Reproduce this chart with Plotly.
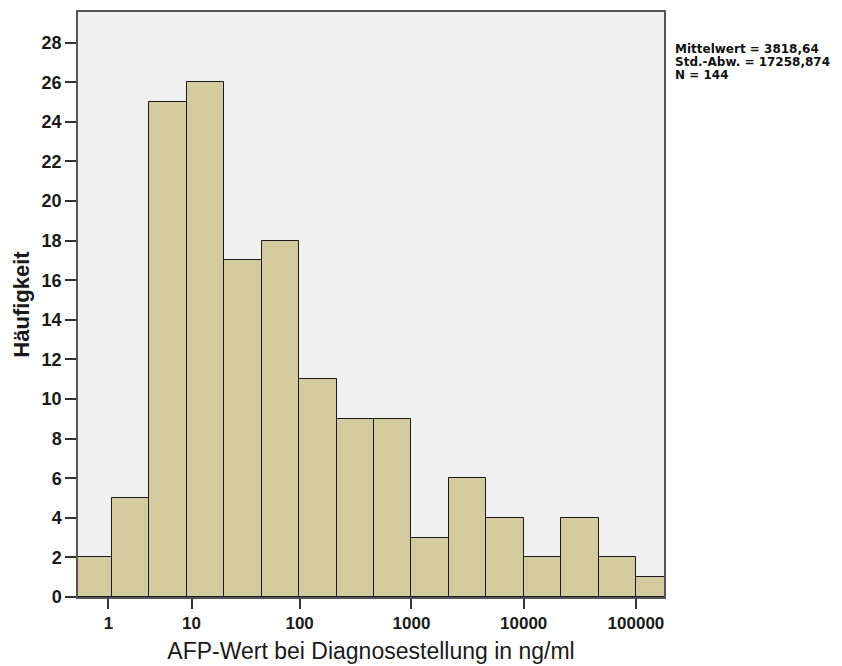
import math
import plotly.graph_objects as go

# Histogram counts, bins of width 1/3 on the log10(AFP+1) scale, starting at 0
counts = [2, 5, 25, 26, 17, 18, 11, 9, 9, 3, 6, 4, 2, 4, 2, 1]
bin_width = 1.0 / 3.0
tick_values = [1, 10, 100, 1000, 10000, 100000]
tick_labels = ["1", "10", "100", "1000", "10000", "100000"]
y_ticks = list(range(0, 30, 2))
stats_lines = ["Mittelwert = 3818,64", "Std.-Abw. = 17258,874", "N = 144"]

centers = [(i + 0.5) * bin_width for i in range(len(counts))]
tick_pos = [math.log10(v + 1) for v in tick_values]

fig = go.Figure()
fig.add_trace(go.Bar(
    x=centers, y=counts, width=bin_width,
    marker=dict(color="#d4cc9e", line=dict(color="#1a1a1a", width=1)),
    hoverinfo="y",
))

font_family = "Liberation Sans, Arial, sans-serif"

fig.update_layout(
    width=842, height=666,
    margin=dict(l=78, r=178, t=12, b=69),
    paper_bgcolor="white",
    plot_bgcolor="#f0f0f0",
    showlegend=False,
    bargap=0,
    font=dict(family=font_family, color="#1a1a1a"),
    xaxis=dict(
        range=[0.03, 5.25], automargin=False,
        tickvals=tick_pos, ticktext=["<b>%s</b>" % t for t in tick_labels],
        tickfont=dict(size=17, color="#1a1a1a"),
        ticks="outside", ticklen=10, tickcolor="#333", tickwidth=1.5,
        showline=True, linecolor="#555", linewidth=1.5, mirror=True,
        showgrid=False, zeroline=False,
        title=dict(text="AFP-Wert bei Diagnosestellung in ng/ml",
                   font=dict(size=23, color="#1a1a1a"), standoff=11),
    ),
    yaxis=dict(
        range=[0, 29.55], automargin=False,
        tickvals=y_ticks, ticktext=["<b>%d</b>" % v for v in y_ticks],
        tickfont=dict(size=18, color="#1a1a1a"),
        ticks="outside", ticklen=11, tickcolor="#333", tickwidth=1.5,
        showline=True, linecolor="#555", linewidth=1.5, mirror=True,
        showgrid=False, zeroline=False,
        title=dict(text="<b>Häufigkeit</b>", font=dict(size=22, color="#1a1a1a"),
                   standoff=6),
    ),
)

for i, line in enumerate(stats_lines):
    fig.add_annotation(
        xref="paper", yref="paper", x=1.0, y=1.0,
        xshift=9, yshift=-37 - i * 13,
        text="<b>%s</b>" % line, showarrow=False,
        xanchor="left", yanchor="middle",
        font=dict(size=12, color="#111", family="DejaVu Sans, sans-serif"),
    )

fig.write_html("out.html")
